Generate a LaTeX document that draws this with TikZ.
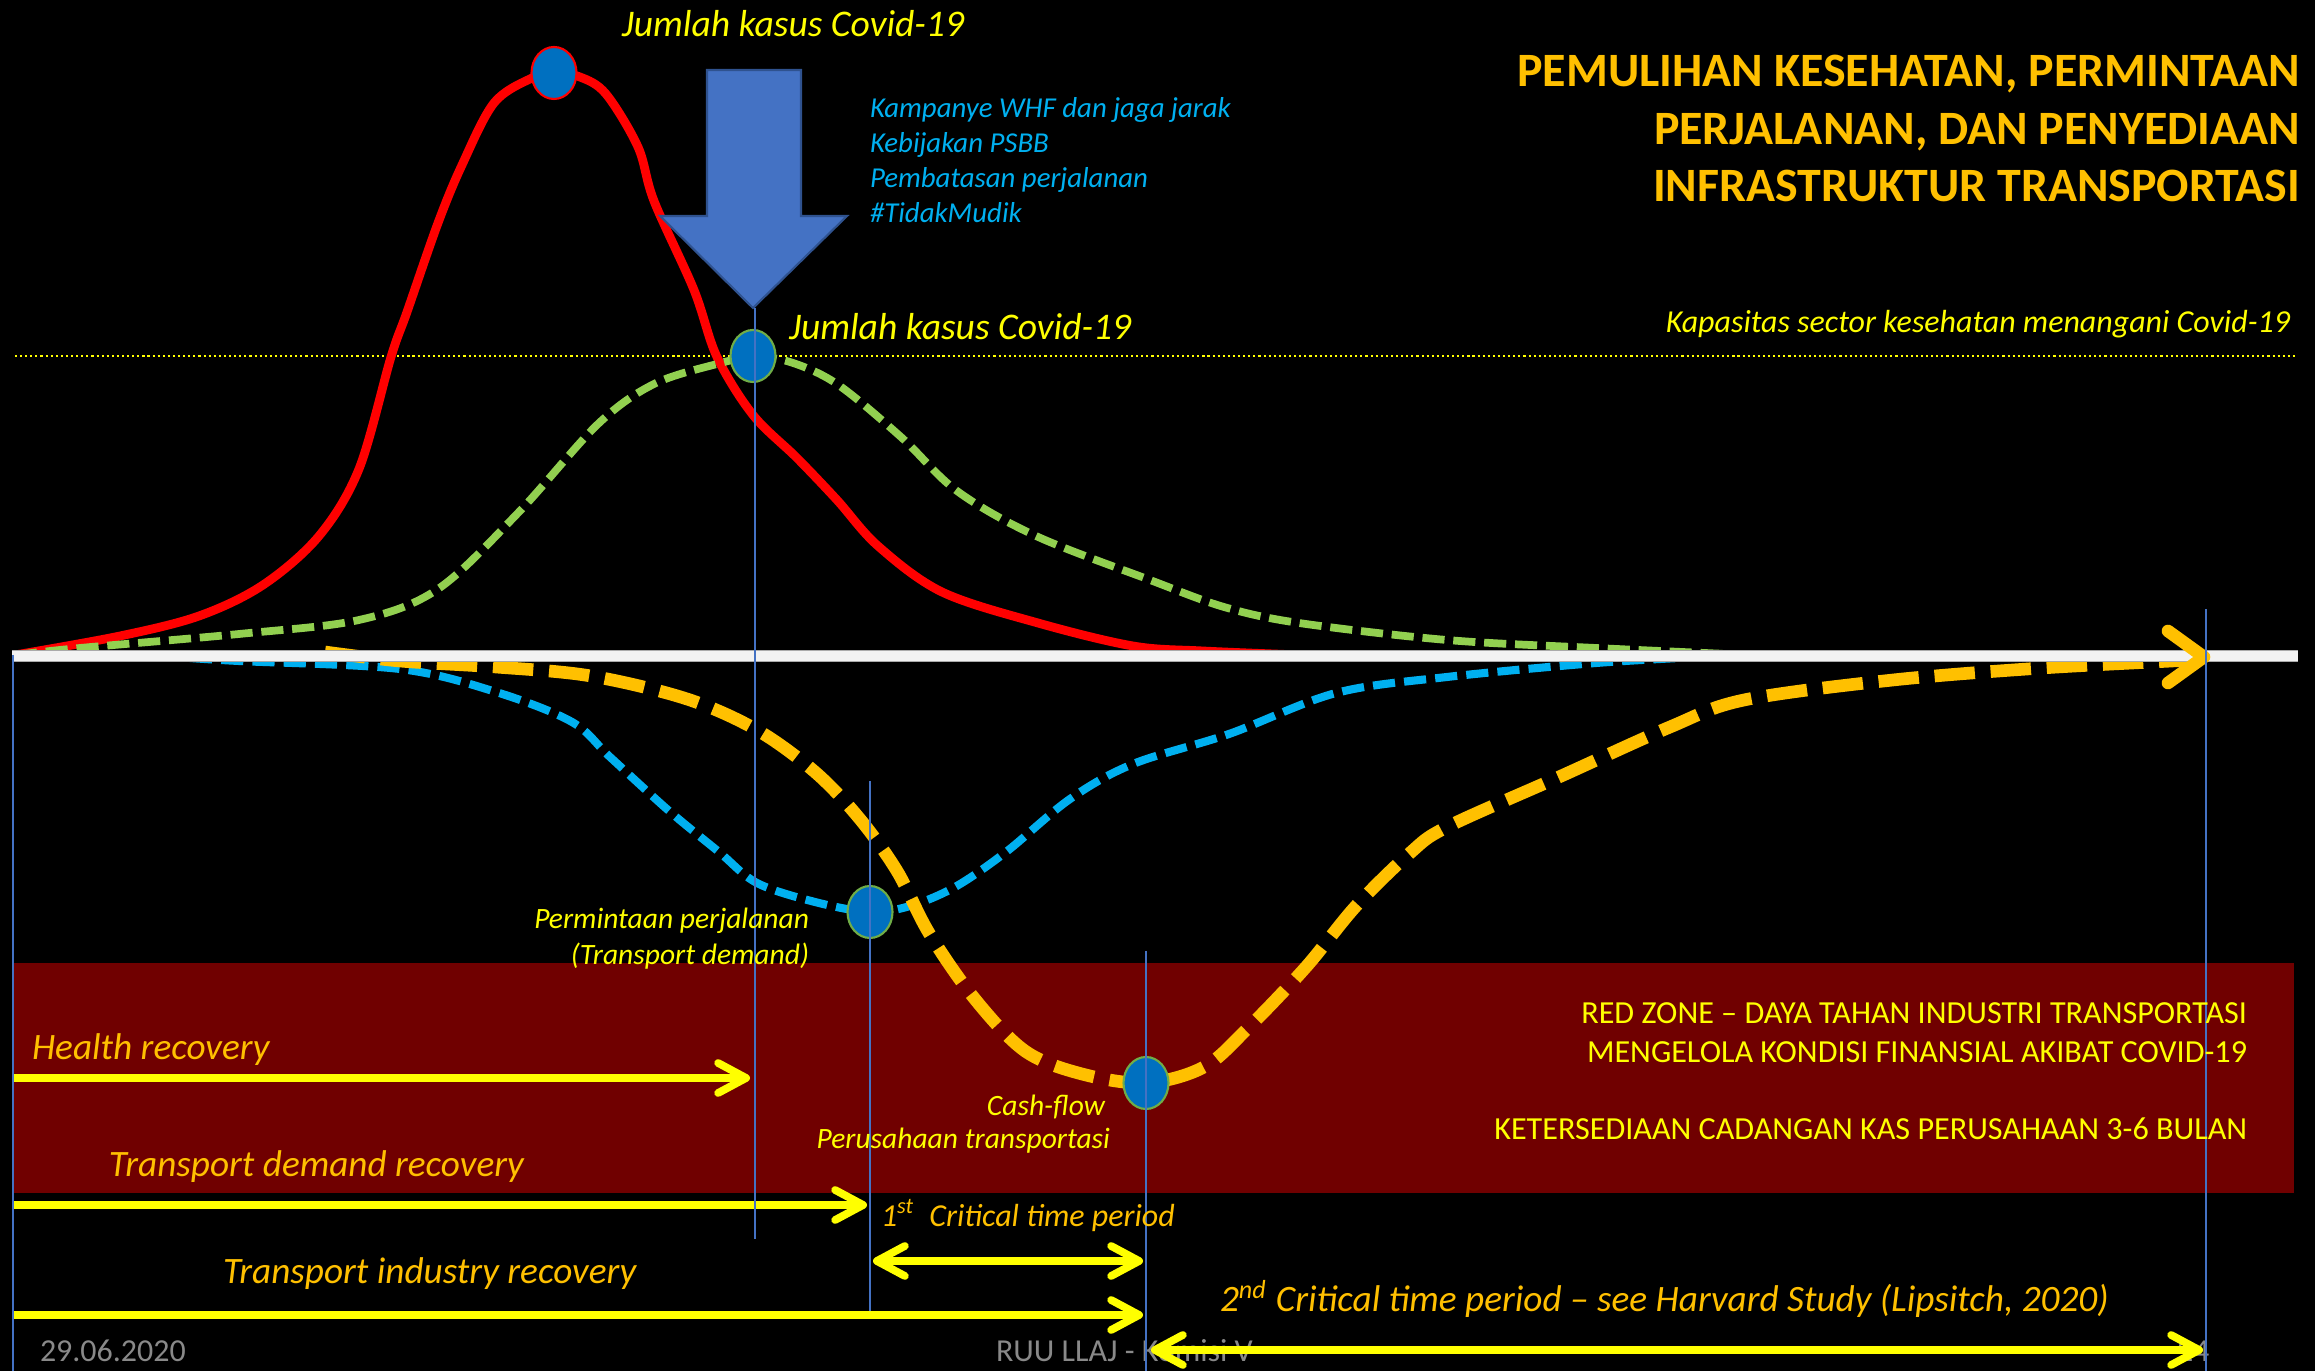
\documentclass[tikz,border=0pt]{standalone}
\usepackage{fontspec}
\setmainfont{Carlito}
\usetikzlibrary{arrows.meta,shapes.geometric}
\definecolor{redzone}{RGB}{112,0,0}
\definecolor{ayellow}{RGB}{255,255,0}
\definecolor{aorange}{RGB}{255,192,0}
\definecolor{agreen}{RGB}{146,208,80}
\definecolor{acyan}{RGB}{0,176,240}
\definecolor{ared}{RGB}{255,0,0}
\definecolor{dotblue}{RGB}{0,112,192}
\definecolor{oliveedge}{RGB}{112,173,71}
\definecolor{arrblue}{RGB}{68,114,196}
\definecolor{arredge}{RGB}{47,82,143}
\definecolor{footgray}{RGB}{137,137,137}
\definecolor{vlinec}{RGB}{68,114,196}
\definecolor{axisgray}{RGB}{170,170,170}
\definecolor{axiswhite}{RGB}{242,242,242}
\begin{document}
\begin{tikzpicture}[x=0.1mm,y=-0.1mm,
  every node/.style={inner sep=0pt,outer sep=0pt},
  redcurve/.style={draw=ared,line width=2.5pt,line join=round},
  greencurve/.style={draw=agreen,line width=2.2pt,dash pattern=on 6.3pt off 2.5pt},
  cyancurve/.style={draw=acyan,line width=2.3pt,dash pattern=on 6.3pt off 2.6pt},
  orangecurve/.style={draw=aorange,line width=3.6pt,dash pattern=on 11.5pt off 4.5pt},
  yarrow/.style={draw=ayellow,line width=2.2pt,-{Straight Barb[round,length=2.8mm,width=3mm]}},
  ydarrow/.style={draw=ayellow,line width=2.2pt,{Straight Barb[round,length=2.8mm,width=3mm]}-{Straight Barb[round,length=2.8mm,width=3mm]}},
  vthin/.style={draw=vlinec,line width=0.4pt},
  dotnode/.style={ellipse,minimum width=4.5mm,minimum height=5.2mm,fill=dotblue,draw=oliveedge,line width=0.6pt},
  titlefont/.style={font=\fontsize{13.63pt}{16pt}\selectfont\bfseries,text=aorange},
  bigyel/.style={font=\fontsize{10.7pt}{13pt}\selectfont\itshape,text=ayellow},
  cyantext/.style={font=\fontsize{8.2pt}{10pt}\selectfont\itshape,text=acyan},
  smallyel/.style={font=\fontsize{8.4pt}{10pt}\selectfont\itshape,text=ayellow},
  zonetext/.style={font=\fontsize{9.15pt}{11pt}\selectfont,text=ayellow},
  recov/.style={font=\fontsize{10.6pt}{12pt}\selectfont\itshape,text=aorange},
  crit/.style={font=\fontsize{9.1pt}{11pt}\selectfont\itshape,text=aorange},
  foot/.style={font=\fontsize{9.1pt}{11pt}\selectfont,text=footgray}
]
\useasboundingbox (0,0) rectangle (2315,1371);
\fill[black] (0,0) rectangle (2315,1371);

% red zone
\fill[redzone] (13,963) rectangle (2294,1193);

% capacity line
\draw[ayellow,line width=0.6pt,dash pattern=on 0.6pt off 0.85pt] (15,356) -- (2295,356);

% curves
\draw[redcurve] plot[smooth,tension=0.55] coordinates {(15,655) (120,636) (199,616) (263,585) (319,536) (359,469) (391,357) (407,312) (438,223) (462,165) (494,103) (532,78) (554,73) (580,77) (606,94) (638,147) (654,201) (694,290) (717,357) (753,415) (797,458) (837,500) (878,546) (942,592) (1038,623) (1133,646) (1203,651) (1300,655)};
\draw[greencurve] plot[smooth,tension=0.55] coordinates {(15,655) (80,648) (239,634) (359,620) (438,589) (518,513) (598,424) (654,384) (717,364) (753,357) (790,362) (837,384) (901,437) (957,491) (1036,536) (1150,580) (1224,607) (1299,623) (1447,640) (1596,648) (1750,655)};
\draw[cyancurve] plot[smooth,tension=0.55] coordinates {(190,658) (239,661) (400,669) (496,692) (572,722) (610,757) (668,810) (719,852) (757,883) (815,902) (870,912) (910,906) (955,887) (1006,852) (1070,799) (1133,764) (1229,734) (1336,693) (1447,677) (1596,663) (1700,657)};
\draw[orangecurve] plot[smooth,tension=0.55] coordinates {(325,652) (400,661) (496,667) (591,676) (687,699) (757,730) (815,772) (859,818) (897,871) (929,933) (974,998) (1025,1051) (1082,1074) (1146,1083) (1204,1067) (1248,1028) (1306,967) (1356,906) (1410,853) (1447,827) (1559,777) (1670,727) (1744,700) (1893,680) (2042,668) (2190,660) (2204,658)};

% axis
\coordinate (ax0) at (12,656);
\coordinate (ax1) at (2298,656);
\draw[axisgray,line width=3.6pt] (ax0) -- (ax1);
\draw[axiswhite,line width=3.0pt] (ax0) -- (ax1);

% orange chevron at the end of the cash-flow curve
\coordinate (oend) at (2204,657);
\draw[aorange,line width=3.6pt,line cap=round,line join=round] (2168,631) -- (oend) -- (2168,683);

% footer
\node[foot,anchor=base west] (date) at (40,1362) {29.06.2020};
\node[foot,anchor=base west] (ruu) at (996,1362) {RUU LLAJ - Komisi V};
\node[foot,anchor=base west] (pg) at (2177,1362) {24};

% recovery arrows
\coordinate (hs) at (13,1078);
\coordinate (he) at (750,1078);
\coordinate (ds) at (13,1205);
\coordinate (de) at (867,1205);
\coordinate (is) at (13,1315);
\coordinate (ie) at (1143,1315);
\coordinate (c1s) at (873,1261);
\coordinate (c1e) at (1143,1261);
\coordinate (c2s) at (1151,1350);
\coordinate (c2e) at (2203,1350);
\draw[yarrow] (hs) -- (he);
\draw[yarrow] (ds) -- (de);
\draw[yarrow] (is) -- (ie);
\draw[ydarrow] (c1s) -- (c1e);
\draw[ydarrow] (c2s) -- (c2e);

% big blue arrow
\draw[fill=arrblue,draw=arredge,line width=0.6pt,line join=miter]
  (707,70) -- (801,70) -- (801,216) -- (847,216) -- (753,308) -- (660,216) -- (707,216) -- cycle;

% dots
\node[dotnode,draw=ared] (peak) at (554,73) {};
\node[dotnode] (cap) at (753,356) {};
\node[dotnode] (dem) at (870,912) {};
\node[dotnode] (cash) at (1146,1083) {};

% thin vertical lines
\coordinate (v0a) at (13,655);   \coordinate (v0b) at (13,1371);
\coordinate (v1a) at (755,308);  \coordinate (v1b) at (755,1239);
\coordinate (v2a) at (870,781);  \coordinate (v2b) at (870,1311);
\coordinate (v3a) at (1146,951); \coordinate (v3b) at (1146,1371);
\coordinate (v4a) at (2206,609); \coordinate (v4b) at (2206,1371);
\draw[vthin] (v0a) -- (v0b);
\draw[vthin] (v1a) -- (v1b);
\draw[vthin] (v2a) -- (v2b);
\draw[vthin] (v3a) -- (v3b);
\draw[vthin] (v4a) -- (v4b);

% texts
\node[bigyel,anchor=base] (j1) at (793,37) {Jumlah kasus Covid-19};
\node[bigyel,anchor=base west] (j2) at (789,340) {Jumlah kasus Covid-19};

\node[cyantext,anchor=base west] (c1) at (870,118) {Kampanye WHF dan jaga jarak};
\node[cyantext,anchor=base west] (c2) at (870,153) {Kebijakan PSBB};
\node[cyantext,anchor=base west] (c3) at (870,188) {Pembatasan perjalanan};
\node[cyantext,anchor=base west] (c4) at (870,223) {\#TidakMudik};

\node[titlefont,anchor=base east] (t1) at (2300,87) {PEMULIHAN KESEHATAN, PERMINTAAN};
\node[titlefont,anchor=base east] (t2) at (2300,145) {PERJALANAN, DAN PENYEDIAAN};
\node[titlefont,anchor=base east] (t3) at (2300,202) {INFRASTRUKTUR TRANSPORTASI};

\node[font=\fontsize{9.1pt}{11pt}\selectfont\itshape,text=ayellow,anchor=base east] (kap) at (2290,333) {Kapasitas sector kesehatan menangani Covid-19};

\node[smallyel,anchor=base east] (pm1) at (809,929) {Permintaan perjalanan};
\node[smallyel,anchor=base east] (pm2) at (809,965) {(Transport demand)};
\node[smallyel,anchor=base east] (cf1) at (1105,1116) {Cash-flow};
\node[smallyel,anchor=base east] (cf2) at (1110,1149) {Perusahaan transportasi};

\node[zonetext,anchor=base east] (z1) at (2247,1024) {RED ZONE – DAYA TAHAN INDUSTRI TRANSPORTASI};
\node[zonetext,anchor=base east] (z2) at (2247,1063) {MENGELOLA KONDISI FINANSIAL AKIBAT COVID-19};
\node[zonetext,anchor=base east] (z3) at (2247,1140) {KETERSEDIAAN CADANGAN KAS PERUSAHAAN 3-6 BULAN};

\node[recov,anchor=base west] (hr) at (32,1060) {Health recovery};
\node[recov,anchor=base west] (tdr) at (109,1177) {Transport demand recovery};
\node[recov,anchor=base west] (tir) at (223,1284) {Transport industry recovery};
\node[crit,anchor=base west] (cr1) at (881,1227) {1\textsuperscript{st}\ \ Critical time period};
\node[recov,anchor=base west] (cr2) at (1220,1312) {2\textsuperscript{nd} Critical time period – see Harvard Study (Lipsitch, 2020)};
\end{tikzpicture}
\end{document}
